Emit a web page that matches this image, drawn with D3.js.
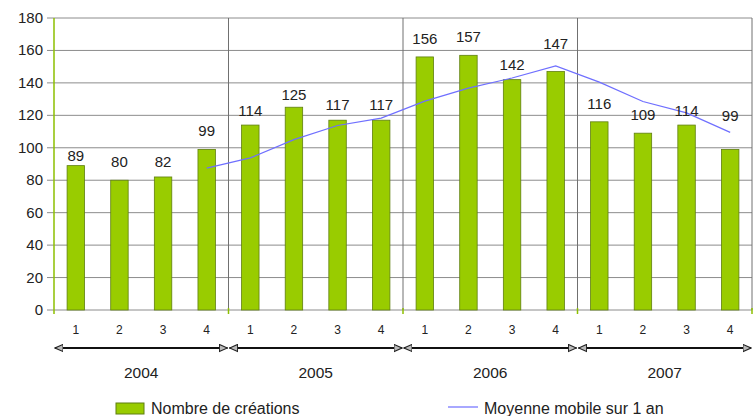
<!DOCTYPE html>
<html>
<head>
<meta charset="utf-8">
<script src="https://cdn.jsdelivr.net/npm/d3@7"></script>
<style>
  body { margin: 0; background: #fff; }
  svg { display: block; font-family: "Liberation Sans", Arial, sans-serif; }
</style>
</head>
<body>
<div id="container"></div>
<script>
/* DATA */
const years = ["2004", "2005", "2006", "2007"];
const quarters = ["1", "2", "3", "4"];
const creations = [89, 80, 82, 99, 114, 125, 117, 117, 156, 157, 142, 147, 116, 109, 114, 99];
// moving average starts at Q4 2004
const movingAvg = [null, null, null, 87.5, 93.75, 105, 113.75, 118.25, 128.75, 136.75, 143, 150.5, 140.5, 128.5, 121.5, 109.5];
const yTicks = [0, 20, 40, 60, 80, 100, 120, 140, 160, 180];

/* LAYOUT */
const width = 756, height = 416;
const plot = {left: 54, right: 752, top: 18, bottom: 310};
// extra lift (px) for value labels, as placed in the original
const labelLift = [-5.5, 3, -0.5, 3, -0.5, -3, 0, 0, 3, 3, 0, 13, 3, 3.5, -1, 18];

const keys = [];
years.forEach(y => quarters.forEach(q => keys.push(y + "-" + q)));
const data = keys.map((k, i) => ({key: k, year: k.split("-")[0], q: k.split("-")[1], value: creations[i], avg: movingAvg[i]}));

/* SCALES */
const x = d3.scaleBand().domain(keys).range([plot.left, plot.right]).paddingInner(0.6).paddingOuter(0.3);
const xYear = d3.scaleBand().domain(years).range([plot.left, plot.right]).padding(0);
const y = d3.scaleLinear().domain([0, 180]).range([plot.bottom, plot.top]);

const svg = d3.select("#container").append("svg")
  .attr("width", width).attr("height", height);

/* GRID */
svg.append("g").selectAll("line")
  .data(yTicks)
  .join("line")
    .attr("x1", plot.left - 7).attr("x2", plot.right)
    .attr("y1", d => y(d)).attr("y2", d => y(d))
    .attr("stroke", "#8c8c8c").attr("stroke-width", 1);

// y tick labels
svg.append("g").selectAll("text")
  .data(yTicks)
  .join("text")
    .attr("x", plot.left - 11)
    .attr("y", d => y(d) + 5)
    .attr("text-anchor", "end")
    .attr("font-size", "15px")
    .attr("fill", "#222")
    .text(d => d);

// year separators + right border
svg.append("g").selectAll("line")
  .data(years.slice(1).concat(["end"]))
  .join("line")
    .attr("x1", d => d === "end" ? plot.right : xYear(d))
    .attr("x2", d => d === "end" ? plot.right : xYear(d))
    .attr("y1", plot.top).attr("y2", plot.bottom)
    .attr("stroke", "#707070").attr("stroke-width", 1);

// green axis line at left + small green ticks at year boundaries
svg.append("line")
  .attr("x1", plot.left).attr("x2", plot.left)
  .attr("y1", plot.top).attr("y2", plot.bottom + 4)
  .attr("stroke", "#8cbf00").attr("stroke-width", 1.5);

svg.append("g").selectAll("line")
  .data(years.slice(1).concat(["end"]))
  .join("line")
    .attr("x1", d => d === "end" ? plot.right : xYear(d))
    .attr("x2", d => d === "end" ? plot.right : xYear(d))
    .attr("y1", plot.bottom - 2).attr("y2", plot.bottom + 4)
    .attr("stroke", "#8cbf00").attr("stroke-width", 1.5);

/* BARS */
svg.append("g").selectAll("rect")
  .data(data)
  .join("rect")
    .attr("x", d => x(d.key))
    .attr("width", x.bandwidth())
    .attr("y", d => y(d.value))
    .attr("height", d => plot.bottom - y(d.value))
    .attr("fill", "#99cc00")
    .attr("stroke", "#5f7f10")
    .attr("stroke-width", 0.8);

/* MOVING AVERAGE */
const lineGen = d3.line()
  .defined(d => d.avg !== null)
  .x(d => x(d.key) + x.bandwidth() / 2)
  .y(d => y(d.avg));

svg.append("path")
  .datum(data)
  .attr("d", lineGen)
  .attr("fill", "none")
  .attr("stroke", "#6f6fff")
  .attr("stroke-width", 1.2);

/* VALUE LABELS */
svg.append("g").selectAll("text")
  .data(data)
  .join("text")
    .attr("x", d => x(d.key) + x.bandwidth() / 2)
    .attr("y", (d, i) => y(d.value) - 10 - labelLift[i])
    .attr("text-anchor", "middle")
    .attr("font-size", "15px")
    .attr("fill", "#222")
    .text(d => d.value);

/* QUARTER LABELS */
svg.append("g").selectAll("text")
  .data(data)
  .join("text")
    .attr("x", d => x(d.key) + x.bandwidth() / 2)
    .attr("y", 334)
    .attr("text-anchor", "middle")
    .attr("font-size", "12px")
    .attr("fill", "#222")
    .text(d => d.q);

/* YEAR ARROWS */
const defs = svg.append("defs");
defs.append("marker")
  .attr("id", "arrow")
  .attr("viewBox", "0 0 10 10")
  .attr("refX", 9).attr("refY", 5)
  .attr("markerWidth", 4.5).attr("markerHeight", 4.5)
  .attr("orient", "auto-start-reverse")
  .append("path")
    .attr("d", "M0,1 L9,5 L0,9 Z")
    .attr("fill", "#bbb")
    .attr("stroke", "#222")
    .attr("stroke-width", 1.2);

svg.append("g").selectAll("line")
  .data(years)
  .join("line")
    .attr("x1", d => xYear(d) + 1)
    .attr("x2", d => xYear(d) + xYear.bandwidth() - 1)
    .attr("y1", 348).attr("y2", 348)
    .attr("stroke", "#111")
    .attr("stroke-width", 2)
    .attr("marker-start", "url(#arrow)")
    .attr("marker-end", "url(#arrow)");

svg.append("g").selectAll("text")
  .data(years)
  .join("text")
    .attr("x", d => xYear(d) + xYear.bandwidth() / 2)
    .attr("y", 378)
    .attr("text-anchor", "middle")
    .attr("font-size", "15.5px")
    .attr("fill", "#222")
    .text(d => d);

/* LEGEND */
const legend = svg.append("g");
legend.append("rect")
  .attr("x", 116).attr("y", 403)
  .attr("width", 28).attr("height", 11)
  .attr("fill", "#99cc00")
  .attr("stroke", "#5f7f10");
legend.append("text")
  .attr("x", 151).attr("y", 414)
  .attr("font-size", "16px").attr("fill", "#222")
  .text("Nombre de créations");
legend.append("line")
  .attr("x1", 448).attr("x2", 478)
  .attr("y1", 407).attr("y2", 407)
  .attr("stroke", "#6f6fff").attr("stroke-width", 1.2);
legend.append("text")
  .attr("x", 484).attr("y", 414)
  .attr("font-size", "16px").attr("fill", "#222")
  .text("Moyenne mobile sur 1 an");
</script>
</body>
</html>
